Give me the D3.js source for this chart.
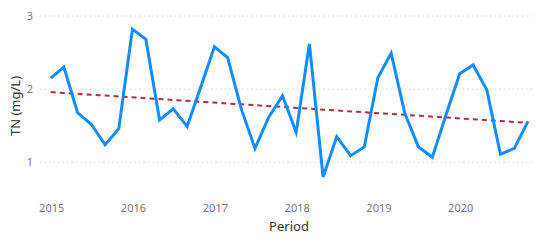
<!DOCTYPE html>
<html>
<head>
<meta charset="utf-8">
<script src="https://cdn.jsdelivr.net/npm/d3@7"></script>
<style>
  body { margin: 0; background: #fff; }
  svg { font-family: "Noto Sans", "Open Sans", sans-serif; }
  .tick-label { fill: #777; font-size: 11px; }
  .axis-title { fill: #333; font-size: 13px; }
</style>
</head>
<body>
<div class="chart"></div>
<script>
// DATA ------------------------------------
// bimonthly TN readings, Jan 2015 .. Nov 2020
const months = d3.range(36).map(i => new Date(2015, i * 2, 1));
const tnValues = [
  2.15, 2.30, 1.68, 1.52, 1.24, 1.46,
  2.82, 2.68, 1.58, 1.73, 1.49, 2.03,
  2.58, 2.43, 1.73, 1.19, 1.62, 1.91,
  1.41, 2.62, 0.80, 1.35, 1.09, 1.21,
  2.16, 2.49, 1.67, 1.21, 1.07, 1.65,
  2.21, 2.33, 1.99, 1.11, 1.19, 1.56
];
const trendValues = [1.96, 1.54];   // start / end of the trend line
const yTicks = [1, 2, 3];
const yearTicks = [2015, 2016, 2017, 2018, 2019, 2020];

// CHART INIT ------------------------------
var width = 550,
    height = 244;

const svg = d3.select(".chart").append("svg")
    .attr("width", width)
    .attr("height", height);

const xScale = d3.scaleTime()
    .domain([months[0], months[months.length - 1]])
    .range([50.7, 528]);

const yScale = d3.scaleLinear()
    .domain([1, 3])
    .range([162.3, 16]);

// gridlines
svg.append("g")
    .selectAll("line")
    .data(yTicks)
    .enter()
    .append("line")
    .attr("x1", 40)
    .attr("x2", 533)
    .attr("y1", d => yScale(d))
    .attr("y2", d => yScale(d))
    .attr("stroke", "#d4d4d4")
    .attr("stroke-width", 1)
    .attr("stroke-dasharray", "1.5,3");

// y tick labels
svg.append("g")
    .selectAll("text")
    .data(yTicks)
    .enter()
    .append("text")
    .attr("class", "tick-label")
    .attr("x", 33)
    .attr("y", d => yScale(d))
    .attr("dy", "0.35em")
    .attr("text-anchor", "end")
    .text(d => d);

// x tick labels
svg.append("g")
    .selectAll("text")
    .data(yearTicks)
    .enter()
    .append("text")
    .attr("class", "tick-label")
    .attr("x", d => xScale(new Date(d, 0, 1)) + 1)
    .attr("y", 212)
    .attr("text-anchor", "middle")
    .text(d => d);

// axis titles
svg.append("text")
    .attr("class", "axis-title")
    .attr("x", 289)
    .attr("y", 231)
    .attr("text-anchor", "middle")
    .text("Period");

svg.append("text")
    .attr("class", "axis-title")
    .attr("transform", "translate(20,106) rotate(-90)")
    .attr("text-anchor", "middle")
    .text("TN (mg/L)");

// trend line
svg.append("line")
    .attr("x1", xScale(months[0]))
    .attr("x2", xScale(months[months.length - 1]))
    .attr("y1", yScale(trendValues[0]))
    .attr("y2", yScale(trendValues[1]))
    .attr("stroke", "#b0303a")
    .attr("stroke-width", 2)
    .attr("stroke-dasharray", "5,4");

// main series
const line = d3.line()
    .x((d, i) => xScale(months[i]))
    .y(d => yScale(d));

svg.append("path")
    .datum(tnValues)
    .attr("d", line)
    .attr("fill", "none")
    .attr("stroke", "#118dff")
    .attr("stroke-width", 3)
    .attr("stroke-linejoin", "miter");
</script>
</body>
</html>
